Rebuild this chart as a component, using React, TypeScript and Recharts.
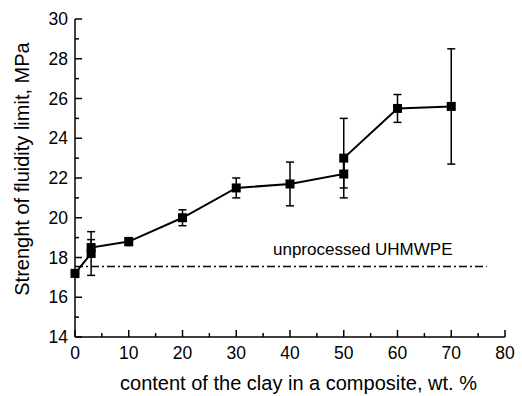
import { LineChart, Line, XAxis, YAxis, ErrorBar, ReferenceLine } from 'recharts';

// clay content, wt. %
const clay = [0, 3, 3, 10, 20, 30, 40, 50, 50, 60, 70];
// yield strength, MPa
const strength = [17.2, 18.2, 18.5, 18.8, 20.0, 21.5, 21.7, 22.2, 23.0, 25.5, 25.6];
// error bar half-widths
const spread = [0, 1.1, 0.4, 0.2, 0.4, 0.5, 1.1, 0.7, 2.0, 0.7, 2.9];

const xTicks = [0, 5, 10, 15, 20, 25, 30, 35, 40, 45, 50, 55, 60, 65, 70, 75, 80];
const yTicks = [14, 15, 16, 17, 18, 19, 20, 21, 22, 23, 24, 25, 26, 27, 28, 29, 30];

const baseline = 17.55;
const baselineEnd = 76.6;
const baselineLabel = 'unprocessed UHMWPE';

const FONT = '"Liberation Sans", Arial, sans-serif';

const data = clay.map((c, i) => ({ clay: c, strength: strength[i], err: spread[i] }));

const XTick = ({ x, y, payload }: any) => {
  const major = payload.value % 10 === 0;
  return (
    <g>
      <line x1={x} y1={y} x2={x} y2={y - (major ? 7 : 4)} stroke="#000" strokeWidth={1.5} />
      {major && (
        <text x={x} y={y + 22} textAnchor="middle" fontSize={17.5} fontFamily={FONT} fill="#000">
          {payload.value}
        </text>
      )}
    </g>
  );
};

const YTick = ({ x, y, payload }: any) => {
  const major = payload.value % 2 === 0;
  return (
    <g>
      <line x1={x} y1={y} x2={x + (major ? 7 : 4)} y2={y} stroke="#000" strokeWidth={1.5} />
      {major && (
        <text x={x - 7} y={y + 6} textAnchor="end" fontSize={17.5} fontFamily={FONT} fill="#000">
          {payload.value}
        </text>
      )}
    </g>
  );
};

const SquareDot = ({ cx, cy, index }: any) => (
  <rect key={`sq-${index}`} x={cx - 4.5} y={cy - 4.5} width={9} height={9} fill="#000" />
);

export default function App() {
  return (
    <div style={{ position: 'absolute', left: 0, top: 0, background: '#fff' }}>
      <LineChart width={522} height={396} data={data} margin={{ top: 19, right: 17, left: 74, bottom: 58 }}>
        <XAxis
          dataKey="clay"
          type="number"
          domain={[0, 80]}
          ticks={xTicks}
          interval={0}
          height={1}
          tickSize={0}
          tickMargin={0}
          tickLine={false}
          axisLine={{ stroke: '#000', strokeWidth: 1.5 }}
          tick={<XTick />}
        />
        <YAxis
          type="number"
          domain={[14, 30]}
          ticks={yTicks}
          interval={0}
          width={1}
          tickSize={0}
          tickMargin={0}
          tickLine={false}
          axisLine={{ stroke: '#000', strokeWidth: 1.5 }}
          tick={<YTick />}
        />
        <ReferenceLine
          segment={[{ x: 0, y: baseline }, { x: baselineEnd, y: baseline }]}
          stroke="#000"
          strokeWidth={1.5}
          strokeDasharray="8 3 2 3"
          label={() => (
            <text x={273} y={255} fontSize={17} fontFamily={FONT} fill="#000">
              {baselineLabel}
            </text>
          )}
        />
        <Line
          dataKey="strength"
          stroke="#000"
          strokeWidth={2}
          dot={<SquareDot />}
          activeDot={false}
          isAnimationActive={false}
        >
          <ErrorBar dataKey="err" direction="y" width={4} stroke="#000" strokeWidth={1.5} />
        </Line>
      </LineChart>
      <svg width={522} height={396} style={{ position: 'absolute', left: 0, top: 0, pointerEvents: 'none' }}>
        <text x={298.5} y={390} textAnchor="middle" fontSize={20} fontFamily={FONT} fill="#000">
          content of the clay in a composite, wt. %
        </text>
        <text x={29} y={169} transform="rotate(-90 29 169)" textAnchor="middle" fontSize={20} fontFamily={FONT} fill="#000">
          Strenght of fluidity limit, MPa
        </text>
      </svg>
    </div>
  );
}
